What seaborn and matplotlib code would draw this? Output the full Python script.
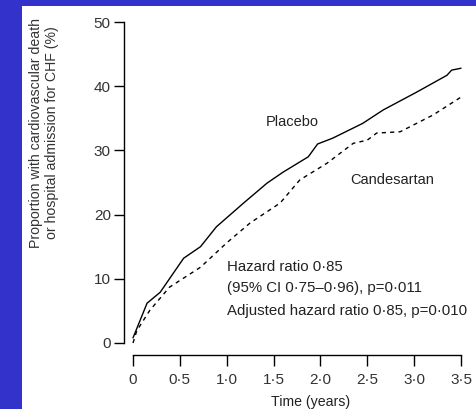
import matplotlib
matplotlib.use("Agg")
import matplotlib.pyplot as plt
import seaborn as sns
import pandas as pd
from matplotlib.patches import Rectangle

# Data
placebo_t = [0.0, 0.15, 0.29, 0.54, 0.72, 0.89, 1.18, 1.43, 1.60, 1.87, 1.97, 2.13, 2.45, 2.67, 3.03, 3.35, 3.40, 3.50]
placebo_y = [0.8, 6.2, 7.9, 13.2, 15.0, 18.1, 21.8, 24.9, 26.6, 29.0, 31.0, 31.9, 34.2, 36.3, 39.1, 41.7, 42.5, 42.8]
cand_t = [0.0, 0.04, 0.18, 0.39, 0.72, 1.00, 1.25, 1.57, 1.78, 2.07, 2.35, 2.50, 2.60, 2.85, 3.20, 3.50]
cand_y = [0.0, 1.9, 5.1, 8.7, 11.8, 15.6, 18.7, 21.8, 25.4, 28.0, 31.1, 31.6, 32.7, 32.9, 35.5, 38.3]
x_ticks = [0, 0.5, 1.0, 1.5, 2.0, 2.5, 3.0, 3.5]
x_tick_labels = ["0", "0·5", "1·0", "1·5", "2·0", "2·5", "3·0", "3·5"]
y_ticks = [0, 10, 20, 30, 40, 50]

df = pd.DataFrame({
    "t": placebo_t + cand_t,
    "y": placebo_y + cand_y,
    "group": ["Placebo"] * len(placebo_t) + ["Candesartan"] * len(cand_t),
})

sns.set_style("white")
plt.rcParams["font.family"] = ["Liberation Sans", "DejaVu Sans"]

fig = plt.figure(figsize=(4.76, 4.09), dpi=100)
fig.patch.set_facecolor("#3333CC")
fig.patches.append(Rectangle((22 / 476, 0), 1, 1 - 6 / 409, transform=fig.transFigure,
                             facecolor="white", edgecolor="none", zorder=-10))

ax = fig.add_axes([133 / 476, 1 - 343 / 409, 328 / 476, 321 / 409])
ax.set_facecolor("none")

sns.lineplot(data=df, x="t", y="y", hue="group", style="group",
             palette={"Placebo": "black", "Candesartan": "black"},
             dashes={"Placebo": "", "Candesartan": (3, 3)},
             linewidth=1.0, ax=ax, legend=False, sort=False, estimator=None)
for ln in ax.lines:
    ln.set_clip_on(False)

ax.set_xlim(0, 3.5)
ax.set_ylim(0, 50)
ax.set_xticks(x_ticks)
ax.set_xticklabels(x_tick_labels, fontfamily="DejaVu Sans")
ax.set_yticks(y_ticks)
ax.set_yticklabels([str(v) for v in y_ticks], fontfamily="DejaVu Sans")

for s in ["top", "right"]:
    ax.spines[s].set_visible(False)
ax.spines["left"].set_position(("outward", 6.5))
ax.spines["bottom"].set_position(("outward", 8.6))
for s in ["left", "bottom"]:
    ax.spines[s].set_color("black")
    ax.spines[s].set_linewidth(1.0)

ax.tick_params(axis="y", direction="out", length=7.5, width=1.0, color="black",
               labelsize=11, labelcolor="#333333", pad=2, left=True)
ax.tick_params(axis="x", direction="out", length=8, width=1.0, color="black",
               labelsize=11, labelcolor="#333333", pad=5, bottom=True)

ax.set_ylabel("Proportion with cardiovascular death\nor hospital admission for CHF (%)",
              fontsize=10.2, color="#333333", linespacing=1.25, va="center")
ax.yaxis.set_label_coords(-0.271, 0.654)
ax.set_xlabel("Time (years)", fontsize=10.2, color="#222222")
ax.xaxis.set_label_coords(0.54, -0.184)
ax.xaxis.label.set_va("center")

ax.text(1.70, 34.4, "Placebo", fontsize=10.5, ha="center", va="center", color="#222222")
ax.text(2.32, 25.4, "Candesartan", fontsize=10.5, ha="left", va="center", color="#222222")
ax.text(1.0, 11.8, "Hazard ratio 0·85", fontsize=10.8, ha="left", va="center", color="#222222")
ax.text(1.0, 8.5, "(95% CI 0·75–0·96), p=0·011", fontsize=10.8, ha="left", va="center", color="#222222")
ax.text(1.0, 5.0, "Adjusted hazard ratio 0·85, p=0·010", fontsize=10.8, ha="left", va="center", color="#222222")

fig.savefig("out.png", dpi=100, facecolor=fig.get_facecolor())
